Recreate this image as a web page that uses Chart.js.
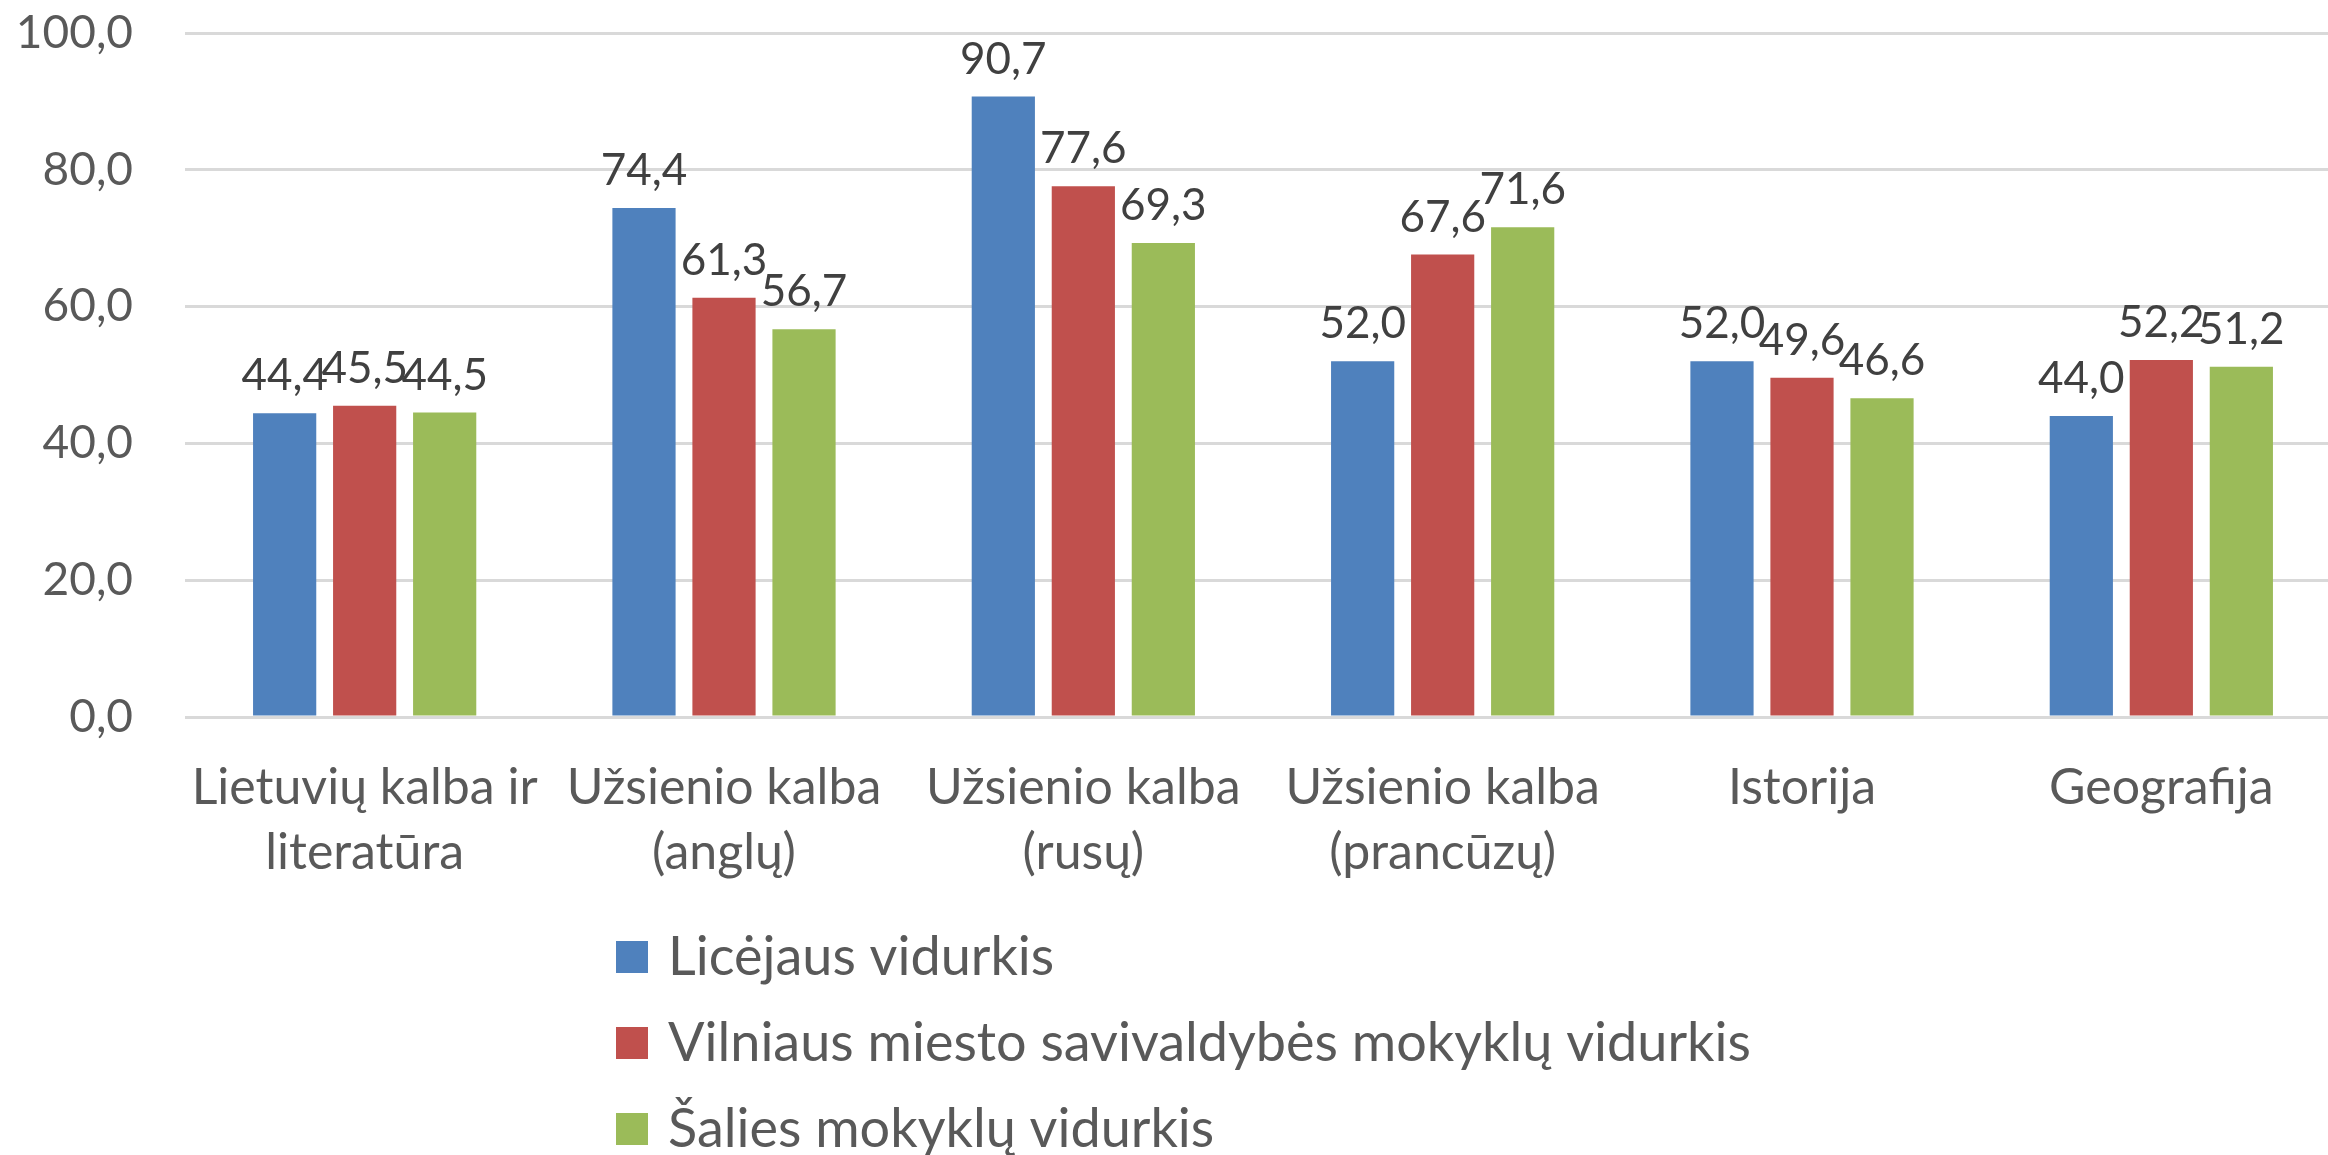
<!DOCTYPE html>
<html>
<head>
<meta charset="utf-8">
<script src="https://cdn.jsdelivr.net/npm/chart.js@4.4.1/dist/chart.umd.min.js"></script>
<style>
  html, body { margin: 0; padding: 0; background: #fff; overflow: hidden; }
  #wrap { width: 2328px; height: 1155px; overflow: hidden; }
  canvas { display: block; }
</style>
</head>
<body>
<div id="wrap"><canvas id="chart-area" width="2341" height="1155"></canvas></div>
<script>
(function () {
  'use strict';

  var subjects = [
    ['Lietuvių kalba ir', 'literatūra'],
    ['Užsienio kalba', '(anglų)'],
    ['Užsienio kalba', '(rusų)'],
    ['Užsienio kalba', '(prancūzų)'],
    'Istorija',
    'Geografija'
  ];
  var seriesNames = [
    'Licėjaus vidurkis',
    'Vilniaus miesto savivaldybės mokyklų vidurkis',
    'Šalies mokyklų vidurkis'
  ];
  var lyceumAvg = [44.4, 74.4, 90.7, 52.0, 52.0, 44.0];
  var vilniusAvg = [45.5, 61.3, 77.6, 67.6, 49.6, 52.2];
  var countryAvg = [44.5, 56.7, 69.3, 71.6, 46.6, 51.2];
  var yTicks = [0, 20, 40, 60, 80, 100];

  var colors = ['#4f81bd', '#c0504d', '#9bbb59'];

  function fmt(v) {
    return Number(v).toFixed(1).replace('.', ',');
  }

  // value labels above each bar
  var barLabels = {
    id: 'barLabels',
    afterDatasetsDraw: function (chart) {
      var ctx = chart.ctx;
      ctx.save();
      ctx.font = '44px Lato';
      ctx.fillStyle = '#404040';
      ctx.textAlign = 'center';
      ctx.textBaseline = 'alphabetic';
      chart.data.datasets.forEach(function (ds, i) {
        chart.getDatasetMeta(i).data.forEach(function (bar, j) {
          ctx.fillText(fmt(ds.data[j]), bar.x, bar.y - 23);
        });
      });
      ctx.restore();
    }
  };

  // stacked legend under the axis labels
  var columnLegend = {
    id: 'columnLegend',
    afterDraw: function (chart) {
      var ctx = chart.ctx;
      var left = 616, top = chart.chartArea.bottom + 224, box = 32, step = 86;
      ctx.save();
      ctx.font = '54px Lato';
      ctx.textAlign = 'left';
      ctx.textBaseline = 'middle';
      chart.data.datasets.forEach(function (ds, i) {
        var y = top + i * step;
        ctx.fillStyle = ds.backgroundColor;
        ctx.fillRect(left, y, box, box);
        ctx.fillStyle = '#595959';
        ctx.fillText(ds.label, left + 52, y + box / 2 + 1);
      });
      ctx.restore();
    }
  };

  var ctx = document.getElementById('chart-area').getContext('2d');
  window.subjectChart = new Chart(ctx, {
    type: 'bar',
    data: {
      labels: subjects,
      datasets: [
        { label: seriesNames[0], data: lyceumAvg, backgroundColor: colors[0] },
        { label: seriesNames[1], data: vilniusAvg, backgroundColor: colors[1] },
        { label: seriesNames[2], data: countryAvg, backgroundColor: colors[2] }
      ]
    },
    plugins: [barLabels, columnLegend],
    options: {
      responsive: false,
      animation: false,
      devicePixelRatio: 1,
      layout: { padding: { top: 33, left: 0, right: 0, bottom: 0 } },
      categoryPercentage: 0.668,
      barPercentage: 0.79,
      plugins: {
        legend: { display: false },
        tooltip: { enabled: false }
      },
      scales: {
        x: {
          grid: { display: false, drawTicks: false },
          border: { display: false },
          ticks: {
            color: '#595959',
            padding: 38,
            maxRotation: 0,
            autoSkip: false,
            font: { family: 'Lato', size: 50, lineHeight: 65 / 50 }
          },
          afterFit: function (scale) {
            scale.height = 438;
            scale.paddingLeft = 0;
            scale.paddingRight = 0;
          }
        },
        y: {
          min: 0,
          max: 100,
          afterBuildTicks: function (scale) {
            scale.ticks = yTicks.map(function (v) { return { value: v }; });
          },
          grid: { color: '#d9d9d9', lineWidth: 3, drawTicks: false },
          border: { display: false },
          ticks: {
            color: '#595959',
            padding: 52,
            font: { family: 'Lato', size: 46 },
            callback: function (v) { return fmt(v); }
          },
          afterFit: function (scale) {
            scale.width = 185;
            scale.paddingTop = 0;
            scale.paddingBottom = 0;
          }
        }
      }
    }
  });
})();
</script>
</body>
</html>
